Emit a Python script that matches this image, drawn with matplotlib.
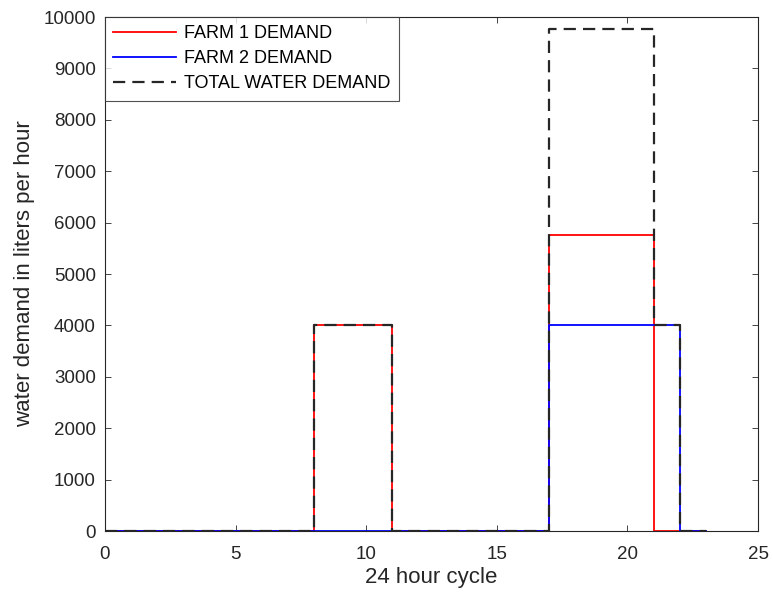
import matplotlib
matplotlib.use('Agg')
import numpy as np
import matplotlib.pyplot as plt

plt.rcParams['font.family'] = ['Liberation Sans', 'DejaVu Sans']

# step breakpoints (hour) and demand from that hour on
hours = [0, 8, 11, 17, 21, 22, 23]
farm1 = [0, 4000, 0, 5760, 0, 0, 0]
farm2 = [0, 0, 0, 4000, 4000, 0, 0]
total = np.array(farm1) + np.array(farm2)

txt = '#262626'

fig = plt.figure(figsize=(7.73, 5.99), dpi=100)
ax = fig.add_axes([0.1358, 0.1135, 0.8448, 0.858])

ax.plot(hours, farm1, drawstyle='steps-post', color='#ff0000', lw=1.3, label='FARM 1 DEMAND')
ax.plot(hours, farm2, drawstyle='steps-post', color='#0000ff', lw=1.3, label='FARM 2 DEMAND')
ax.plot(hours, total, drawstyle='steps-post', color='#262626', lw=1.6,
        dashes=(5.5, 3.2), label='TOTAL WATER DEMAND')

ax.set_xlim(0, 25)
ax.set_ylim(0, 10000)
ax.set_xticks(np.arange(0, 26, 5))
ax.set_yticks(np.arange(0, 10001, 1000))
ax.tick_params(direction='in', top=True, right=True, labelsize=13.5, colors=txt,
               length=4, width=0.6)
ax.tick_params(axis='x', pad=11)
ax.tick_params(axis='y', pad=6.5)
for s in ax.spines.values():
    s.set_color(txt)
    s.set_linewidth(0.8)

ax.set_xlabel('24 hour cycle', fontsize=16, color=txt, labelpad=3)
ax.set_ylabel('water demand in liters per hour', fontsize=16, color=txt, labelpad=6)

leg = ax.legend(loc='upper left', fontsize=13, frameon=True, fancybox=False,
                borderaxespad=0, handlelength=3.5, handletextpad=0.45,
                labelspacing=0.45, borderpad=0.45)
leg.get_frame().set_edgecolor(txt)
leg.get_frame().set_linewidth(0.8)

fig.savefig('out.png', dpi=100)
